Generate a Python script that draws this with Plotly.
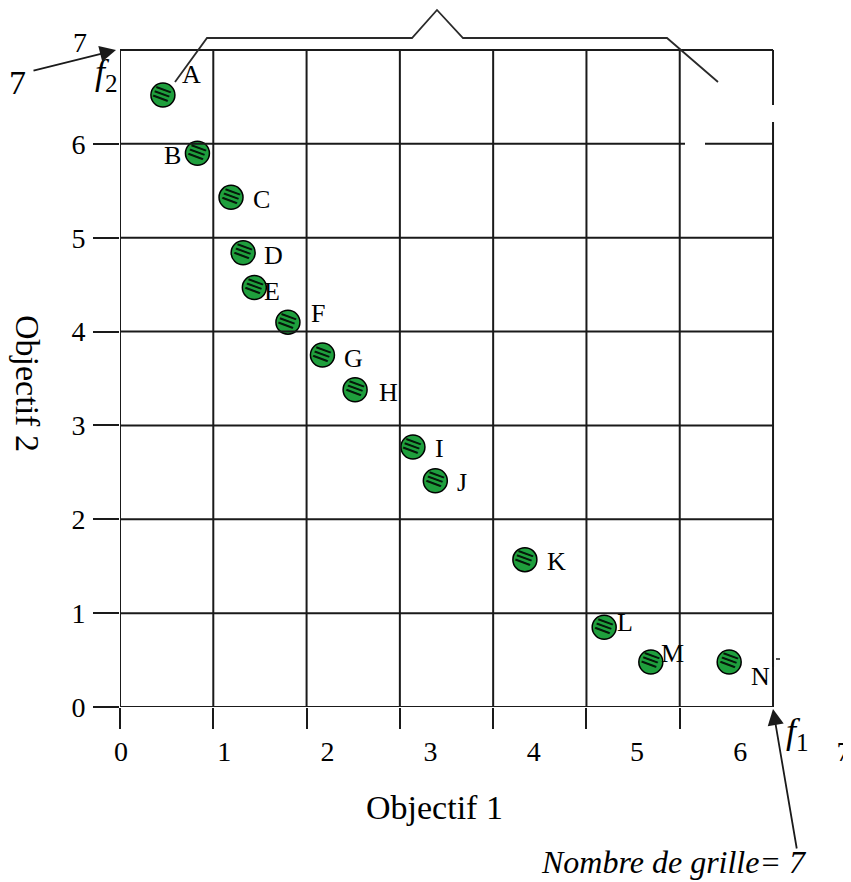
import plotly.graph_objects as go

# ---------------- data ----------------
point_labels = ["A", "B", "C", "D", "E", "F", "G", "H", "I", "J", "K", "L", "M", "N"]
objectif1 = [0.46, 0.83, 1.19, 1.32, 1.44, 1.80, 2.17, 2.52, 3.14, 3.38, 4.34, 5.19, 5.69, 6.53]
objectif2 = [6.52, 5.90, 5.43, 4.84, 4.47, 4.10, 3.75, 3.38, 2.77, 2.41, 1.57, 0.85, 0.48, 0.48]
x_tick_labels = ["0", "1", "2", "3", "4", "5", "6", "7"]
y_tick_labels = ["0", "1", "2", "3", "4", "5", "6"]
grid_count = 7

# ---------------- styles ----------------
label_dx = [29, -25, 30, 30, 18, 30, 31, 33, 27, 27, 32, 21, 22, 31]
label_dy = [-21, 2, 2, 3, 4, -9, 3, 3, 1, 2, 2, -5, -8, 15]

W, H = 851, 882
OFF = 8                         # page offset of the figure (body margin)
X0P, Y0P = 120, 707             # page pixel position of grid origin (0, 0)
ML = X0P - OFF
MB = H - (Y0P - OFF)
MT, MR = 0, 0
PW, PH = W - ML - MR, H - MT - MB
UX, UY = 93.29, 93.86           # pixels per grid unit
LAB0, LABU = 1, 103.2           # offset and spacing of the x tick-label scale

SERIF = "Liberation Serif"
LINE = "#1a1a1a"


def dx(px):
    return (px - X0P) / UX


def dy(py):
    return (Y0P - py) / UY


def pxp(px):
    return (px - X0P) / PW


def pyp(py):
    return (Y0P - py) / PH


fig = go.Figure()

fig.add_trace(go.Scatter(
    x=objectif1, y=objectif2, mode="markers",
    marker=dict(size=24, color="#1f9f3d", line=dict(color="black", width=1.5)),
    hoverinfo="skip", showlegend=False, cliponaxis=False,
))
fig.add_trace(go.Scatter(x=[], y=[], xaxis="x2", showlegend=False, hoverinfo="skip"))

shapes = []
# grid (vertical)
for k in range(grid_count + 1):
    if k < grid_count:
        segs = [(0, grid_count)]
    else:
        segs = [(dy(105), grid_count), (dy(667), dy(122)), (0, dy(650))]
    for a, b in segs:
        shapes.append(dict(type="line", xref="x", yref="y", x0=k, x1=k, y0=a, y1=b,
                           line=dict(color=LINE, width=2)))
# grid (horizontal)
for j in range(grid_count + 1):
    if j == 6:
        segs = [(0, dx(685)), (dx(705), grid_count)]
    else:
        segs = [(0, grid_count)]
    for a, b in segs:
        shapes.append(dict(type="line", xref="x", yref="y", x0=a, x1=b, y0=j, y1=j,
                           line=dict(color=LINE, width=2)))
# tiny dash near N
shapes.append(dict(type="line", xref="x", yref="y", x0=dx(776), x1=dx(780), y0=dy(659), y1=dy(659),
                   line=dict(color=LINE, width=1.5)))
# brace on top
brace = [(175, 82), (207, 38), (412, 38), (437, 10), (463, 38), (667, 38), (718, 82)]
path = "M " + " L ".join(f"{dx(a):.4f},{dy(b):.4f}" for a, b in brace)
shapes.append(dict(type="path", xref="x", yref="y", path=path,
                   line=dict(color="#2a2a2a", width=1.8)))

annotations = []
# stripes on markers and point labels
for i, lab in enumerate(point_labels):
    annotations.append(dict(x=objectif1[i], y=objectif2[i], xref="x", yref="y", text="≡",
                            showarrow=False, textangle=20, yshift=2,
                            xanchor="center", yanchor="middle",
                            font=dict(family="DejaVu Sans", size=25, color="rgba(0,0,0,0.85)")))
    annotations.append(dict(x=objectif1[i], y=objectif2[i], xref="x", yref="y", text=lab,
                            showarrow=False, xshift=label_dx[i], yshift=-label_dy[i],
                            xanchor="center", yanchor="middle",
                            font=dict(family=SERIF, size=26, color="black")))


def txt(px, py, text, size, angle=0):
    annotations.append(dict(x=pxp(px), y=pyp(py), xref="paper", yref="paper", text=text,
                            showarrow=False, textangle=angle, xanchor="center", yanchor="middle",
                            font=dict(family=SERIF, size=size, color="black")))


# axis titles
txt(434, 807, "Objectif 1", 34)
txt(28, 383, "Objectif 2", 34, 90)
# decorations
txt(80, 43, "7", 28)
txt(18, 82, "7", 34)
txt(106, 74, "<i>f</i><sub>2</sub>", 36)
txt(797, 733, "<i>f</i><sub>1</sub>", 36)
txt(674, 862, "<i>Nombre de grille= 7</i>", 32)

# arrows
annotations.append(dict(x=pxp(116), y=pyp(50), xref="paper", yref="paper", text="",
                        showarrow=True, ax=-84, ay=21, axref="pixel", ayref="pixel",
                        arrowhead=2, arrowsize=1.8, arrowwidth=1.8, arrowcolor=LINE, standoff=0))
annotations.append(dict(x=pxp(773), y=pyp(709), xref="paper", yref="paper", text="",
                        showarrow=True, ax=24, ay=141, axref="pixel", ayref="pixel",
                        arrowhead=2, arrowsize=1.8, arrowwidth=1.8, arrowcolor=LINE, standoff=0))

fig.update_layout(
    width=W, height=H,
    margin=dict(l=ML, r=MR, t=MT, b=MB),
    paper_bgcolor="white", plot_bgcolor="white",
    showlegend=False,
    shapes=shapes, annotations=annotations,
    xaxis=dict(range=[0, PW / UX], tickvals=list(range(grid_count)), ticks="outside",
               ticklen=21, tickwidth=2, tickcolor=LINE, showticklabels=False,
               showgrid=False, zeroline=False, showline=False, fixedrange=True),
    xaxis2=dict(overlaying="x", anchor="y", side="bottom",
                range=[-LAB0 / LABU, (PW - LAB0) / LABU],
                tickvals=list(range(len(x_tick_labels))), ticktext=x_tick_labels,
                ticks="", showgrid=False, zeroline=False, showline=False,
                ticklabelstandoff=25, ticklabeloverflow="allow",
                tickfont=dict(family=SERIF, size=28, color="black")),
    yaxis=dict(range=[0, PH / UY], tickvals=list(range(len(y_tick_labels))),
               ticktext=y_tick_labels, ticks="outside", ticklen=26, tickwidth=2,
               tickcolor=LINE, ticklabelstandoff=2,
               tickfont=dict(family=SERIF, size=28, color="black"),
               showgrid=False, zeroline=False, showline=False, fixedrange=True),
)

fig.write_html("out.html")
